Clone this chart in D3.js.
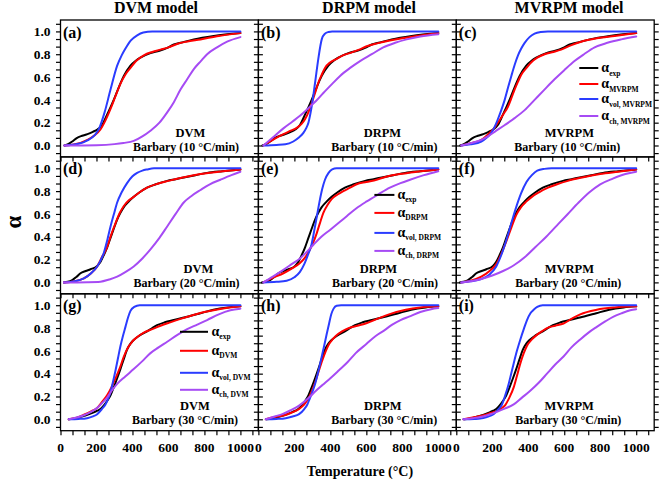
<!DOCTYPE html>
<html><head><meta charset="utf-8">
<script src="https://cdn.jsdelivr.net/npm/d3@7"></script>
<style>
body{margin:0;background:#fff}
svg text{font-family:"Liberation Serif","Times New Roman",serif;font-weight:bold;fill:#000}
</style>
</head><body>
<svg id="chart" width="661" height="485"></svg>
<script>
// ---------------- DATA ----------------
const modelTitles = ["DVM model", "DRPM model", "MVRPM model"];
const modelNames = ["DVM", "DRPM", "MVRPM"];
const heatingRates = ["10", "20", "30"];
const panelLabels = ["(a)","(b)","(c)","(d)","(e)","(f)","(g)","(h)","(i)"];
const xTickLabels = [0, 200, 400, 600, 800, 1000];
const yTickLabels = [0.0, 0.2, 0.4, 0.6, 0.8, 1.0];
const xLabel = "Temperature (°C)";
const yLabel = "α";

// experimental conversion, [T (°C), alpha]
const exp10 = [[22,0],[45,0.015],[65,0.035],[90,0.065],[120,0.085],[150,0.10],[180,0.12],[205,0.14],[231,0.18],[259,0.27],[296,0.40],[324,0.51],[352,0.61],[389,0.70],[420,0.745],[444,0.77],[500,0.81],[550,0.83],[593,0.855],[630,0.885],[667,0.90],[741,0.93],[852,0.96],[1000,0.985]];
const exp20 = [[19,0],[40,0.005],[65,0.02],[90,0.05],[111,0.08],[140,0.10],[167,0.115],[204,0.145],[222,0.18],[241,0.24],[260,0.31],[278,0.39],[296,0.47],[315,0.55],[333,0.61],[352,0.66],[380,0.71],[407,0.75],[440,0.79],[481,0.83],[530,0.86],[593,0.89],[640,0.905],[685,0.92],[750,0.94],[815,0.96],[900,0.975],[1000,0.99]];
const exp30 = [[46,0],[90,0.012],[130,0.03],[160,0.045],[185,0.06],[205,0.075],[222,0.09],[240,0.12],[259,0.16],[278,0.21],[296,0.28],[315,0.36],[333,0.44],[352,0.53],[370,0.61],[390,0.665],[407,0.695],[440,0.735],[481,0.77],[510,0.80],[537,0.825],[580,0.85],[630,0.87],[680,0.89],[720,0.905],[778,0.93],[850,0.96],[930,0.98],[1000,0.99]];

// DVM model
const dvm10 = [[22,0],[80,0.01],[150,0.05],[190,0.09],[222,0.14],[250,0.22],[278,0.32],[305,0.43],[333,0.54],[360,0.62],[389,0.68],[420,0.74],[463,0.79],[510,0.82],[556,0.84],[600,0.86],[648,0.89],[700,0.91],[778,0.93],[880,0.96],[1000,0.985]];
const volDvm10 = [[22,0],[100,0.015],[150,0.045],[190,0.09],[215,0.15],[245,0.29],[278,0.49],[315,0.70],[340,0.79],[361,0.85],[390,0.92],[426,0.965],[460,0.99],[510,1.0],[1000,1.0]];
const chDvm10 = [[22,0],[200,0.003],[300,0.012],[350,0.022],[407,0.04],[455,0.08],[500,0.13],[550,0.20],[593,0.29],[630,0.38],[667,0.49],[704,0.58],[741,0.67],[780,0.74],[815,0.80],[870,0.86],[926,0.91],[1000,0.95]];
const dvm20 = [[19,0],[80,0.01],[130,0.035],[170,0.08],[204,0.14],[230,0.22],[259,0.31],[280,0.41],[306,0.52],[330,0.61],[352,0.67],[380,0.72],[407,0.75],[440,0.79],[481,0.83],[540,0.865],[600,0.89],[680,0.92],[778,0.95],[880,0.97],[1000,0.99]];
const volDvm20 = [[19,0],[80,0.01],[130,0.035],[170,0.08],[204,0.14],[225,0.20],[241,0.26],[260,0.37],[278,0.49],[297,0.60],[315,0.70],[340,0.79],[370,0.87],[400,0.93],[426,0.96],[455,0.98],[481,0.99],[520,1.0],[1000,1.0]];
const chDvm20 = [[19,0],[150,0.002],[222,0.006],[270,0.025],[315,0.05],[360,0.09],[407,0.14],[455,0.21],[500,0.29],[550,0.39],[593,0.49],[640,0.60],[685,0.70],[730,0.76],[778,0.81],[830,0.86],[889,0.90],[950,0.94],[1000,0.97]];
const dvm30 = [[46,0],[90,0.015],[130,0.04],[170,0.07],[204,0.10],[230,0.15],[259,0.21],[283,0.28],[306,0.36],[330,0.45],[352,0.55],[375,0.63],[398,0.68],[430,0.725],[463,0.76],[510,0.79],[556,0.82],[610,0.85],[667,0.88],[730,0.91],[800,0.94],[880,0.965],[1000,0.99]];
const volDvm30 = [[46,0],[100,0.003],[148,0.01],[180,0.025],[204,0.045],[230,0.09],[250,0.13],[265,0.18],[278,0.24],[292,0.33],[306,0.43],[320,0.54],[333,0.64],[347,0.73],[361,0.81],[375,0.89],[389,0.95],[410,0.985],[440,1.0],[1000,1.0]];
const chDvm30 = [[46,0],[90,0.015],[130,0.035],[170,0.065],[204,0.10],[230,0.14],[259,0.19],[287,0.255],[315,0.31],[360,0.375],[407,0.44],[455,0.51],[500,0.58],[545,0.63],[593,0.68],[650,0.74],[704,0.79],[760,0.83],[815,0.87],[880,0.92],[944,0.955],[1000,0.97]];

// DRPM model
const drpm10 = [[28,0],[80,0.05],[139,0.10],[180,0.13],[213,0.155],[240,0.19],[259,0.23],[280,0.30],[296,0.37],[315,0.46],[333,0.55],[352,0.62],[370,0.68],[400,0.73],[435,0.76],[470,0.79],[509,0.81],[560,0.84],[602,0.87],[660,0.895],[731,0.92],[800,0.94],[880,0.96],[1000,0.985]];
const volDrpm10 = [[28,0],[100,0.005],[150,0.01],[194,0.035],[225,0.07],[250,0.11],[265,0.15],[278,0.20],[296,0.34],[315,0.55],[333,0.76],[352,0.93],[370,0.98],[390,0.995],[410,1.0],[1000,1.0]];
const chDrpm10 = [[28,0],[80,0.07],[139,0.15],[190,0.21],[231,0.26],[260,0.30],[287,0.34],[320,0.39],[361,0.46],[410,0.54],[454,0.61],[510,0.68],[565,0.74],[630,0.80],[694,0.86],[760,0.90],[824,0.93],[900,0.955],[1000,0.975]];
const drpm20 = [[28,0],[80,0.04],[139,0.08],[185,0.12],[231,0.17],[260,0.22],[287,0.29],[305,0.35],[324,0.43],[342,0.52],[361,0.61],[385,0.68],[407,0.73],[440,0.77],[472,0.80],[510,0.83],[546,0.86],[600,0.88],[657,0.90],[720,0.93],[787,0.95],[880,0.97],[1000,0.99]];
const volDrpm20 = [[28,0],[100,0.005],[157,0.015],[200,0.045],[230,0.09],[255,0.16],[275,0.24],[295,0.33],[310,0.45],[325,0.58],[340,0.71],[355,0.82],[370,0.90],[390,0.96],[410,0.99],[435,1.0],[1000,1.0]];
const chDrpm20 = [[28,0],[80,0.05],[139,0.11],[185,0.16],[231,0.21],[270,0.27],[306,0.33],[350,0.40],[398,0.46],[445,0.52],[491,0.58],[545,0.65],[602,0.71],[665,0.77],[731,0.83],[790,0.87],[843,0.90],[920,0.94],[1000,0.975]];
const drpm30 = [[41,0],[90,0.02],[133,0.03],[180,0.055],[226,0.09],[255,0.13],[281,0.19],[300,0.26],[319,0.34],[337,0.43],[356,0.52],[375,0.60],[393,0.66],[412,0.70],[430,0.73],[465,0.77],[504,0.80],[550,0.82],[596,0.84],[660,0.88],[726,0.92],[819,0.96],[900,0.98],[1000,0.99]];
const volDrpm30 = [[41,0],[100,0.003],[152,0.01],[190,0.025],[226,0.045],[255,0.09],[272,0.13],[285,0.18],[300,0.24],[315,0.31],[330,0.40],[345,0.50],[365,0.64],[380,0.75],[393,0.84],[405,0.92],[418,0.97],[435,0.995],[460,1.0],[1000,1.0]];
const chDrpm30 = [[41,0],[90,0.025],[133,0.045],[180,0.08],[226,0.12],[255,0.155],[281,0.19],[320,0.25],[356,0.30],[400,0.36],[448,0.43],[495,0.50],[541,0.58],[600,0.66],[652,0.73],[700,0.78],[744,0.83],[790,0.87],[837,0.90],[900,0.94],[960,0.965],[1000,0.975]];

// MVRPM model
const mvrpm10 = [[28,0],[80,0.02],[139,0.05],[185,0.11],[210,0.15],[231,0.20],[260,0.27],[287,0.34],[305,0.41],[324,0.49],[343,0.56],[361,0.62],[390,0.68],[417,0.73],[450,0.77],[491,0.80],[540,0.82],[583,0.84],[640,0.88],[694,0.91],[780,0.94],[880,0.96],[1000,0.985]];
const volMvrpm10 = [[28,0],[80,0.01],[139,0.035],[170,0.07],[194,0.11],[215,0.17],[231,0.23],[250,0.31],[269,0.40],[288,0.51],[306,0.61],[325,0.71],[343,0.79],[361,0.85],[380,0.90],[407,0.95],[435,0.98],[470,0.995],[509,1.0],[1000,1.0]];
const chMvrpm10 = [[28,0],[80,0.02],[139,0.05],[180,0.085],[213,0.12],[270,0.18],[324,0.24],[380,0.31],[435,0.40],[490,0.49],[546,0.58],[600,0.66],[657,0.74],[710,0.80],[769,0.86],[840,0.90],[917,0.93],[1000,0.955]];
const mvrpm20 = [[28,0],[80,0.015],[139,0.05],[185,0.10],[222,0.16],[250,0.25],[278,0.36],[306,0.48],[333,0.59],[360,0.66],[390,0.71],[420,0.75],[460,0.79],[510,0.83],[560,0.86],[620,0.89],[700,0.92],[800,0.95],[900,0.97],[1000,0.99]];
const volMvrpm20 = [[28,0],[80,0.01],[139,0.03],[185,0.07],[222,0.14],[250,0.24],[278,0.37],[306,0.52],[333,0.66],[360,0.78],[390,0.88],[420,0.94],[450,0.98],[490,0.995],[530,1.0],[1000,1.0]];
const chMvrpm20 = [[28,0],[80,0.01],[139,0.03],[200,0.06],[260,0.10],[320,0.15],[380,0.22],[440,0.31],[500,0.40],[560,0.50],[620,0.60],[680,0.70],[740,0.79],[800,0.86],[870,0.91],[940,0.95],[1000,0.97]];
const mvrpm30 = [[40,0],[90,0.015],[133,0.03],[180,0.05],[226,0.074],[250,0.095],[272,0.125],[295,0.19],[319,0.28],[337,0.38],[356,0.49],[375,0.58],[393,0.645],[420,0.70],[448,0.74],[475,0.77],[504,0.80],[550,0.82],[596,0.84],[640,0.88],[689,0.92],[781,0.96],[880,0.98],[1000,0.99]];
const volMvrpm30 = [[40,0],[100,0.003],[133,0.006],[170,0.02],[207,0.045],[230,0.08],[254,0.13],[272,0.21],[291,0.31],[305,0.40],[319,0.49],[337,0.60],[356,0.70],[375,0.79],[393,0.87],[412,0.93],[430,0.96],[450,0.985],[480,1.0],[1000,1.0]];
const chMvrpm30 = [[40,0],[90,0.01],[133,0.02],[180,0.04],[226,0.065],[272,0.095],[319,0.13],[365,0.19],[411,0.25],[458,0.32],[504,0.40],[550,0.48],[596,0.55],[640,0.63],[689,0.70],[735,0.76],[781,0.81],[830,0.86],[874,0.90],[920,0.93],[967,0.955],[1000,0.965]];

const seriesColors = ["#000000", "#ff0000", "#2a3cff", "#a64bf4"];

// ---------------- LAYOUT ----------------
const W = 661, H = 485;
const left0 = 60.5, top0 = 20, colW = 197.9, rowH = 136.9;

const expByRow = [exp10, exp20, exp30];
const modelData = [
  [[dvm10, volDvm10, chDvm10], [drpm10, volDrpm10, chDrpm10], [mvrpm10, volMvrpm10, chMvrpm10]],
  [[dvm20, volDvm20, chDvm20], [drpm20, volDrpm20, chDrpm20], [mvrpm20, volMvrpm20, chMvrpm20]],
  [[dvm30, volDvm30, chDvm30], [drpm30, volDrpm30, chDrpm30], [mvrpm30, volMvrpm30, chMvrpm30]]
];
const annotX = [[130,125.5],[124,126],[113,111],[138,126],[120,126.6],[113,112],[134.5,124.5],[124.4,125.8],[112.9,112]];
const legends = {
  2: {x1:123, x2:142, tx:145, ys:[48,64,79,96]},
  4: {x1:116, x2:136, tx:139, ys:[38,56,76,94]},
  6: {x1:119.5, x2:147.5, tx:151, ys:[38,57,79,96]}
};

const svg = d3.select("#chart");
svg.append("rect").attr("width", W).attr("height", H).attr("fill", "#fff");

const x = d3.scaleLinear().domain([0, 1100]).range([0, colW]);
const y = d3.scaleLinear().domain([-0.1, 1.1]).range([rowH, 0]);
const xTicks = d3.range(0, 17).map(i => i * 200 / 3);
const yTicks = d3.range(-1, 17).map(i => i * 0.2 / 3);
const line = d3.line().x(d => x(d[0])).y(d => y(d[1])).curve(d3.curveMonotoneX);

svg.append("defs").append("clipPath").attr("id", "pclip").append("rect")
  .attr("x", 0).attr("y", 0).attr("width", colW).attr("height", rowH);

modelTitles.forEach((t, c) => {
  svg.append("text").attr("x", [156, 369, 569][c]).attr("y", 13).attr("text-anchor", "middle")
    .attr("font-size", 16).text(t);
});

for (let r = 0; r < 3; r++) {
  for (let c = 0; c < 3; c++) {
    const idx = r * 3 + c;
    const g = svg.append("g").attr("transform", `translate(${left0 + c * colW},${top0 + r * rowH})`);

    const axB = g.append("g").attr("transform", `translate(0,${rowH})`)
      .call(d3.axisBottom(x).tickValues(xTicks).tickSize(4.5).tickFormat(""));
    const axL = g.append("g").call(d3.axisLeft(y).tickValues(yTicks).tickSize(4.5).tickFormat(""));
    const axR = g.append("g").attr("transform", `translate(${colW},0)`)
      .call(d3.axisRight(y).tickValues(yTicks).tickSize(4.5).tickFormat(""));
    [axB, axL, axR].forEach(a => {
      a.select(".domain").remove();
      a.selectAll(".tick line").attr("stroke", "#000").attr("stroke-width", 1.2);
    });

    const series = [expByRow[r], modelData[r][c][0], modelData[r][c][1], modelData[r][c][2]];
    const cg = g.append("g").attr("clip-path", "url(#pclip)");
    series.forEach((s, k) => {
      cg.append("path").datum(s).attr("d", line).attr("fill", "none")
        .attr("stroke", seriesColors[k]).attr("stroke-width", 2)
        .attr("stroke-linejoin", "round").attr("stroke-linecap", "round");
    });

    g.append("rect").attr("x", 0).attr("y", 0).attr("width", colW).attr("height", rowH)
      .attr("fill", "none").attr("stroke", "#000").attr("stroke-width", 1.3);

    g.append("text").attr("x", 2.5).attr("y", 17.5).attr("font-size", 16).text(panelLabels[idx]);

    g.append("text").attr("x", annotX[idx][0]).attr("y", 116.5).attr("text-anchor", "middle")
      .attr("font-size", 12.5).text(modelNames[c]);
    g.append("text").attr("x", annotX[idx][1]).attr("y", 130.5).attr("text-anchor", "middle")
      .attr("font-size", 12).text(`Barbary (${heatingRates[r]} °C/min)`);

    if (c === 0) {
      yTickLabels.forEach(v => {
        g.append("text").attr("x", -10).attr("y", y(v)).attr("dy", "0.35em")
          .attr("text-anchor", "end").attr("font-size", 13.5).text(d3.format(".1f")(v));
      });
    }
    if (r === 2) {
      xTickLabels.forEach(v => {
        g.append("text").attr("x", x(v)).attr("y", rowH + 21.5)
          .attr("text-anchor", "middle").attr("font-size", 13.5).text(v);
      });
    }

    if (legends[idx]) {
      const L = legends[idx];
      const subs = ["exp", modelNames[c], "vol, " + modelNames[c], "ch, " + modelNames[c]];
      subs.forEach((s, k) => {
        g.append("line").attr("x1", L.x1).attr("x2", L.x2).attr("y1", L.ys[k]).attr("y2", L.ys[k])
          .attr("stroke", seriesColors[k]).attr("stroke-width", 2);
        const t = g.append("text").attr("x", L.tx).attr("y", L.ys[k] + 4).attr("font-size", 14);
        t.append("tspan").text("α");
        t.append("tspan").attr("font-size", 7.5).attr("dy", 3.5).text(s);
      });
    }
  }
}

svg.append("text").attr("x", 360).attr("y", 476).attr("text-anchor", "middle")
  .attr("font-size", 14).text(xLabel);
svg.append("text").attr("transform", "translate(21,222) rotate(-90)").attr("text-anchor", "middle")
  .attr("font-size", 23).text(yLabel);
</script>
</body></html>
